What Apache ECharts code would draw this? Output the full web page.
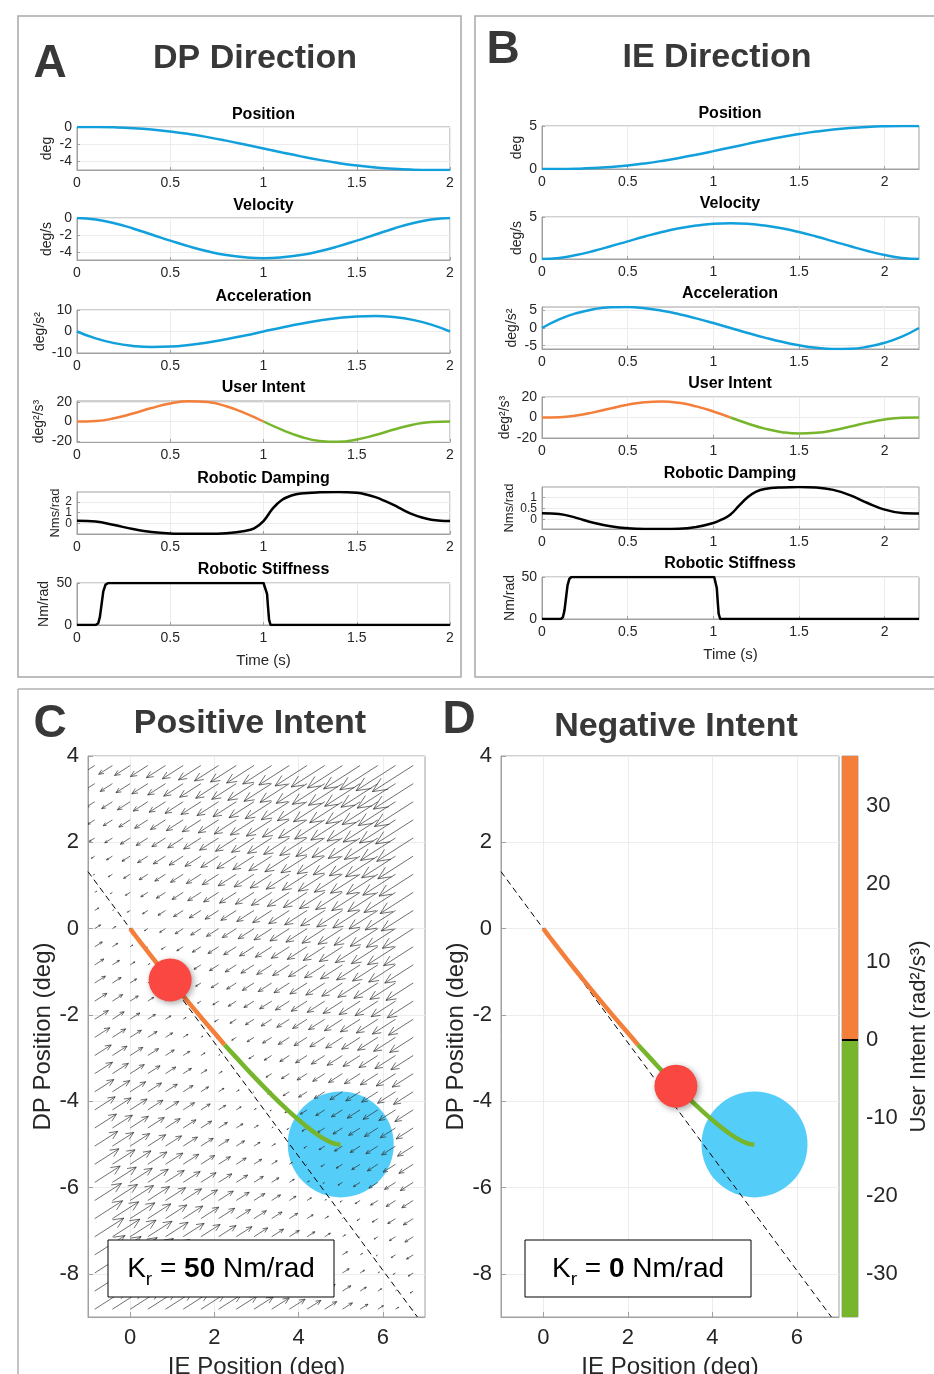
<!DOCTYPE html>
<html><head><meta charset="utf-8">
<script src="https://cdn.jsdelivr.net/npm/echarts@6/dist/echarts.min.js"></script>
<style>html,body{margin:0;padding:0;background:#fff}#c{width:934px;height:1374px}</style>
</head><body><div id="c"></div>
<script>
// ---------------- DATA ----------------
// Panel A (DP direction), time 0..2 s
const tA = [0,0.1,0.2,0.3,0.4,0.5,0.6,0.7,0.8,0.9,1.0,1.1,1.2,1.3,1.4,1.5,1.6,1.7,1.8,1.9,2.0];
const posA = [0,-0.006,-0.043,-0.133,-0.29,-0.518,-0.815,-1.176,-1.587,-2.034,-2.5,-2.966,-3.413,-3.824,-4.185,-4.482,-4.71,-4.867,-4.957,-4.994,-5];
const velA = [0,-0.17,-0.61,-1.22,-1.92,-2.64,-3.31,-3.88,-4.32,-4.59,-4.69,-4.59,-4.32,-3.88,-3.31,-2.64,-1.92,-1.22,-0.61,-0.17,0];
const accA = [0,-3.21,-5.4,-6.69,-7.2,-7.03,-6.3,-5.12,-3.6,-1.86,0,1.86,3.6,5.12,6.3,7.03,7.2,6.69,5.4,3.21,0];
const intentA = [0,0.54,3.28,8.16,13.82,18.54,20.84,19.87,15.55,8.53,0,-8.53,-15.55,-19.87,-20.84,-18.54,-13.82,-8.16,-3.28,-0.54,0];
const tDampA = [0,0.1,0.2,0.3,0.4,0.5,0.6,0.7,0.8,0.9,0.95,1.0,1.05,1.1,1.15,1.2,1.3,1.4,1.5,1.55,1.6,1.65,1.7,1.75,1.8,1.85,1.9,1.95,2.0];
const dampA = [0.25,0.18,-0.15,-0.52,-0.8,-0.93,-0.96,-0.96,-0.9,-0.7,-0.45,0.22,1.4,2.2,2.6,2.8,2.9,2.92,2.85,2.7,2.45,2.1,1.7,1.25,0.85,0.55,0.35,0.26,0.24];
const tStiffA = [0,0.1,0.114,0.123,0.132,0.141,0.153,0.168,1.0,1.01,1.019,1.024,1.03,1.038,2.0];
const stiffA = [0,0,2,10,25,40,48,50,50,49,37,22,6,0,0];

// Panel B (IE direction), time 0..2.2 s
const tB = [0,0.1,0.2,0.3,0.4,0.5,0.6,0.7,0.8,0.9,1.0,1.1,1.2,1.3,1.4,1.5,1.6,1.7,1.8,1.9,2.0,2.1,2.2];
const posB = [0,0.004,0.033,0.102,0.225,0.405,0.645,0.94,1.284,1.666,2.076,2.5,2.924,3.334,3.716,4.06,4.355,4.595,4.775,4.898,4.967,4.996,5];
const velB = [0,0.128,0.466,0.946,1.509,2.103,2.682,3.209,3.651,3.984,4.191,4.261,4.191,3.984,3.651,3.209,2.682,2.103,1.509,0.946,0.466,0.128,0];
const accB = [0,2.445,4.191,5.309,5.867,5.937,5.588,4.89,3.912,2.724,1.397,0,-1.397,-2.724,-3.912,-4.89,-5.588,-5.937,-5.867,-5.309,-4.191,-2.445,0];
const intentB = [0,0.313,1.953,5.022,8.853,12.486,14.987,15.692,14.283,10.852,5.855,0,-5.855,-10.852,-14.283,-15.692,-14.987,-12.486,-8.853,-5.022,-1.953,-0.313,0];
const tDampB = [0,0.1,0.2,0.3,0.4,0.5,0.6,0.7,0.8,0.9,1.0,1.05,1.1,1.15,1.2,1.25,1.3,1.4,1.5,1.6,1.7,1.8,1.9,2.0,2.1,2.2];
const dampB = [0.28,0.25,0.07,-0.15,-0.31,-0.4,-0.43,-0.43,-0.42,-0.34,-0.16,0.0,0.22,0.62,1.0,1.25,1.37,1.44,1.46,1.44,1.33,1.08,0.74,0.44,0.29,0.27];
const tStiffB = [0,0.11,0.122,0.131,0.14,0.149,0.16,0.172,1.005,1.013,1.02,1.025,1.031,1.04,2.2];
const stiffB = [0,0,2,10,25,40,48,50,50,49,37,22,6,0,0];

// Panels C & D: trajectory in IE/DP plane
const trajIE = [0,0.004,0.033,0.102,0.225,0.405,0.645,0.94,1.284,1.666,2.076,2.24,2.5,2.924,3.334,3.716,4.06,4.355,4.595,4.775,4.898,4.967,4.996,5];
const trajDP = [0,-0.006,-0.043,-0.133,-0.29,-0.518,-0.815,-1.176,-1.587,-2.034,-2.5,-2.69,-2.966,-3.413,-3.824,-4.185,-4.482,-4.71,-4.867,-4.957,-4.994,-5,-5,-5];
const trajSwitch = 11; // index where intent changes sign
const dashIE = [-1, 6.82];
const dashDP = [1.32, -9];
const redC = [0.95, -1.19];
const redD = [3.14, -3.65];
const target = [5, -5];
// quiver grid (panel C)
const quiverX = [-0.84,-0.42,0,0.42,0.84,1.26,1.68,2.1,2.52,2.94,3.36,3.78,4.2,4.62,5.04,5.46,5.88,6.3,6.72];
const quiverY = [3.78,3.36,2.94,2.52,2.1,1.68,1.26,0.84,0.42,0,-0.42,-0.84,-1.26,-1.68,-2.1,-2.52,-2.94,-3.36,-3.78,-4.2,-4.62,-5.04,-5.46,-5.88,-6.3,-6.72,-7.14,-7.56,-7.98,-8.4,-8.82];
const fieldDir = [0.848, 0.53];
const fieldGain = 0.225;
const fieldPow = 0.8;
// colorbar
const cbMin = -35.5, cbMax = 36.4;
const cbTicks = [-30,-20,-10,0,10,20,30];
const xTicksA = [0,0.5,1,1.5,2];
const xTicksCD = [0,2,4,6];
const yTicksCD = [-8,-6,-4,-2,0,2,4];

// ---------------- STYLE ----------------
const FONT = '"Liberation Sans", Arial, Helvetica, sans-serif';
const BLUE = '#12a0dc', ORANGE = '#f47f3a', GREEN = '#77b62c', TXT = '#262626', AX = '#a0a0a0', GRIDC = '#ececec';

const grids = [], xAxes = [], yAxes = [], series = [], graphics = [], extraY = [];

function addPlot(c) {
  const gi = grids.length;
  grids.push({left: c.left, top: c.top, width: c.width, height: c.height, show: true,
    borderColor: AX, borderWidth: 1, backgroundColor: 'transparent', containLabel: false, outerBoundsMode: 'none'});
  const fs = c.fs || 14;
  xAxes.push({gridIndex: gi, type: 'value', min: c.xmin, max: c.xmax,
    axisLine: {show: true, onZero: false, lineStyle: {color: AX, width: 1}},
    axisTick: {show: true, inside: true, length: c.tickLen || 3, lineStyle: {color: AX}, customValues: c.xticks},
    axisLabel: {show: true, color: TXT, fontSize: fs, fontFamily: FONT, margin: c.xmargin || 6, customValues: c.xticks, hideOverlap: false, showMinLabel: true, showMaxLabel: true},
    splitLine: {show: true, lineStyle: {color: GRIDC, width: 1}},
    name: c.xname || '', nameLocation: 'middle', nameGap: c.xnameGap || 30,
    nameTextStyle: {color: TXT, fontSize: c.xnameSize || 15, fontFamily: FONT}});
  const yl = {show: true, color: TXT, fontSize: c.yfs || fs, fontFamily: FONT, margin: c.ymargin || 5, customValues: c.ylabels || c.yticks, hideOverlap: false, showMinLabel: true, showMaxLabel: true};
  yAxes.push({gridIndex: gi, type: 'value', position: 'left', min: c.ymin, max: c.ymax,
    axisLine: {show: true, onZero: false, lineStyle: {color: AX, width: 1}},
    axisTick: {show: true, inside: true, length: c.tickLen || 3, lineStyle: {color: AX}, customValues: c.yticks},
    axisLabel: yl,
    splitLine: {show: true, lineStyle: {color: GRIDC, width: 1}},
    name: c.yname || '', nameLocation: 'middle', nameGap: c.ynameGap || 25,
    nameTextStyle: {color: TXT, fontSize: c.ynameSize || 14, fontFamily: FONT}});
  if (c.ylabels2) {
    // second label-only axis (same side) for tightly packed tick labels
    extraY.push({gridIndex: gi, type: 'value', position: 'left', offset: 0, min: c.ymin, max: c.ymax,
      axisLine: {show: false, onZero: false}, axisTick: {show: false}, splitLine: {show: false},
      axisLabel: {show: true, color: TXT, fontSize: c.yfs || fs, fontFamily: FONT, margin: c.ymargin || 5, customValues: c.ylabels2, hideOverlap: false}});
  }
  return gi;
}
function lineSeries(gi, xs, ys, color, width, smooth, z) {
  series.push({type: 'line', xAxisIndex: gi, yAxisIndex: gi, data: xs.map((x, i) => [x, ys[i]]),
    showSymbol: false, symbol: 'none', smooth: smooth, lineStyle: {color: color, width: width}, z: z || 2, silent: true});
}
function label(x, y, text, size, weight, color) {
  graphics.push({type: 'text', x: x, y: y, z: 50, style: {text: text, fontSize: size, fontWeight: weight || 'normal',
    fontFamily: FONT, fill: color || '#000', align: 'center', verticalAlign: 'middle', textAlign: 'center', textVerticalAlign: 'middle'}});
}

// ----- Panel A -----
const aTops = [127, 218, 310, 401, 492, 583], aH = [43, 42, 43, 41, 42, 42];
const aCfg = [
  {ymin: -5, ymax: 0, yticks: [-4, -2, 0], yname: 'deg', ynameGap: 23},
  {ymin: -4.9, ymax: 0, yticks: [-4, -2, 0], yname: 'deg/s', ynameGap: 23},
  {ymin: -10, ymax: 10, yticks: [-10, 0, 10], yname: 'deg/s²', ynameGap: 30},
  {ymin: -21, ymax: 21, yticks: [-20, 0, 20], yname: 'deg²/s³', ynameGap: 31},
  {ymin: -0.98, ymax: 2.93, yticks: [0, 1, 2], ylabels: [0, 2], ylabels2: [1], yname: 'Nms/rad', ynameGap: 15, ynameSize: 13, yfs: 12},
  {ymin: 0, ymax: 50, yticks: [0, 50], yname: 'Nm/rad', ynameGap: 26, xname: 'Time (s)', xnameGap: 28}
];
const aGi = aCfg.map((c, i) => addPlot(Object.assign({left: 77, top: aTops[i], width: 373, height: aH[i], xmin: 0, xmax: 2, xticks: xTicksA}, c)));
lineSeries(aGi[0], tA, posA, BLUE, 2.5, true);
lineSeries(aGi[1], tA, velA, BLUE, 2.5, true);
lineSeries(aGi[2], tA, accA, BLUE, 2.5, true);
lineSeries(aGi[3], tA.slice(0, 11), intentA.slice(0, 11), ORANGE, 2.5, true);
lineSeries(aGi[3], tA.slice(10), intentA.slice(10), GREEN, 2.5, true);
lineSeries(aGi[4], tDampA, dampA, '#000', 2.5, 0.4);
lineSeries(aGi[5], tStiffA, stiffA, '#000', 2.5, false);

// ----- Panel B -----
const bTops = [126, 217, 307, 397, 487, 577], bH = [43, 42, 42, 41, 42, 42];
const bCfg = [
  {ymin: 0, ymax: 5, yticks: [0, 5], yname: 'deg', ynameGap: 18},
  {ymin: 0, ymax: 5, yticks: [0, 5], yname: 'deg/s', ynameGap: 18},
  {ymin: -5.94, ymax: 5.94, yticks: [-5, 0, 5], yname: 'deg/s²', ynameGap: 23},
  {ymin: -20, ymax: 20, yticks: [-20, 0, 20], yname: 'deg²/s³', ynameGap: 30},
  {ymin: -0.43, ymax: 1.46, yticks: [0, 0.5, 1], ylabels: [0, 1], ylabels2: [0.5], yname: 'Nms/rad', ynameGap: 26, ynameSize: 13, yfs: 12},
  {ymin: 0, ymax: 50, yticks: [0, 50], yname: 'Nm/rad', ynameGap: 24, xname: 'Time (s)', xnameGap: 28}
];
const bGi = bCfg.map((c, i) => addPlot(Object.assign({left: 542, top: bTops[i], width: 377, height: bH[i], xmin: 0, xmax: 2.2, xticks: xTicksA}, c)));
lineSeries(bGi[0], tB, posB, BLUE, 2.5, true);
lineSeries(bGi[1], tB, velB, BLUE, 2.5, true);
lineSeries(bGi[2], tB, accB, BLUE, 2.5, true);
lineSeries(bGi[3], tB.slice(0, 12), intentB.slice(0, 12), ORANGE, 2.5, true);
lineSeries(bGi[3], tB.slice(11), intentB.slice(11), GREEN, 2.5, true);
lineSeries(bGi[4], tDampB, dampB, '#000', 2.5, 0.4);
lineSeries(bGi[5], tStiffB, stiffB, '#000', 2.5, false);

// ----- Panels C & D -----
const cdBase = {top: 756, height: 561, xmin: -1, xmax: 7, ymin: -9, ymax: 4, xticks: xTicksCD, yticks: yTicksCD,
  fs: 22, xmargin: 10, ymargin: 9, tickLen: 5, yname: 'DP Position (deg)', ynameGap: 32, ynameSize: 24,
  xname: 'IE Position (deg)', xnameGap: 38, xnameSize: 24};
const cGi = addPlot(Object.assign({}, cdBase, {left: 88, width: 337}));
const dGi = addPlot(Object.assign({}, cdBase, {left: 501, width: 338}));

// quiver data
const qData = [];
const slope = (dashDP[1] - dashDP[0]) / (dashIE[1] - dashIE[0]);
const icpt = dashDP[0] - slope * dashIE[0];
const nrm = Math.sqrt(1 + slope * slope);
quiverY.forEach(y => quiverX.forEach(x => {
  const off = (y - (slope * x + icpt)) / nrm;
  const len = fieldGain * Math.pow(Math.abs(off), fieldPow);
  const s = off > 0 ? -1 : 1;
  qData.push([x, y, s * len * fieldDir[0], s * len * fieldDir[1]]);
}));

[cGi, dGi].forEach((gi, k) => {
  series.push({type: 'scatter', xAxisIndex: gi, yAxisIndex: gi, data: [target], symbolSize: 106,
    itemStyle: {color: '#55cdf9', opacity: 1}, z: 1, silent: true});
  if (k === 0) {
    series.push({type: 'custom', xAxisIndex: gi, yAxisIndex: gi, data: qData, clip: true, z: 2, silent: true,
      encode: {x: 0, y: 1},
      renderItem: function (params, api) {
        const x = api.value(0), y = api.value(1), u = api.value(2), v = api.value(3);
        const p0 = api.coord([x, y]), p1 = api.coord([x + u, y + v]);
        const dx = p1[0] - p0[0], dy = p1[1] - p0[1];
        const L = Math.hypot(dx, dy), ang = Math.atan2(dy, dx), h = 0.33 * L, a = 24 * Math.PI / 180;
        const h1 = [p1[0] - h * Math.cos(ang - a), p1[1] - h * Math.sin(ang - a)];
        const h2 = [p1[0] - h * Math.cos(ang + a), p1[1] - h * Math.sin(ang + a)];
        return {type: 'group', children: [
          {type: 'line', shape: {x1: p0[0], y1: p0[1], x2: p1[0], y2: p1[1]}, style: {stroke: '#303030', lineWidth: 0.7}},
          {type: 'polyline', shape: {points: [h1, p1, h2]}, style: {stroke: '#303030', fill: null, lineWidth: 0.7}}
        ]};
      }});
  }
  series.push({type: 'line', xAxisIndex: gi, yAxisIndex: gi, data: dashIE.map((x, i) => [x, dashDP[i]]),
    showSymbol: false, symbol: 'none', lineStyle: {color: '#000', width: 1, type: [6, 4]}, z: 3, silent: true});
  series.push({type: 'line', xAxisIndex: gi, yAxisIndex: gi, data: trajIE.slice(0, trajSwitch + 1).map((x, i) => [x, trajDP[i]]),
    showSymbol: false, symbol: 'none', smooth: true, lineStyle: {color: ORANGE, width: 4.5, cap: 'butt'}, z: 4, silent: true});
  series.push({type: 'line', xAxisIndex: gi, yAxisIndex: gi, data: trajIE.slice(trajSwitch).map((x, i) => [x, trajDP[i + trajSwitch]]),
    showSymbol: false, symbol: 'none', smooth: true, lineStyle: {color: GREEN, width: 4.5, cap: 'butt'}, z: 4, silent: true});
  series.push({type: 'scatter', xAxisIndex: gi, yAxisIndex: gi, data: [k === 0 ? redC : redD], symbolSize: 43,
    itemStyle: {color: '#fa4742', opacity: 1, shadowBlur: 6, shadowOffsetX: 2, shadowOffsetY: 2, shadowColor: 'rgba(0,0,0,0.35)'}, z: 5, silent: true});
});

// colorbar
const cbGi = grids.length;
grids.push({left: 842, top: 756, width: 16, height: 561, show: true, borderColor: AX, borderWidth: 1, containLabel: false, outerBoundsMode: 'none'});
xAxes.push({gridIndex: cbGi, type: 'category', data: ['cb'], show: false});
yAxes.push({gridIndex: cbGi, type: 'value', min: cbMin, max: cbMax, position: 'right',
  axisLine: {show: false, onZero: false}, axisTick: {show: true, inside: true, length: 4, lineStyle: {color: '#555'}, customValues: cbTicks},
  axisLabel: {show: true, color: TXT, fontSize: 22, fontFamily: FONT, margin: 8, customValues: cbTicks, hideOverlap: false},
  splitLine: {show: false},
  name: 'User Intent (rad²/s³)', nameLocation: 'middle', nameGap: 50, nameTextStyle: {color: TXT, fontSize: 22, fontFamily: FONT}});
series.push({type: 'bar', xAxisIndex: cbGi, yAxisIndex: cbGi, data: [cbMax], barWidth: '100%', barGap: '-100%',
  itemStyle: {color: ORANGE}, silent: true, z: 1});
series.push({type: 'bar', xAxisIndex: cbGi, yAxisIndex: cbGi, data: [cbMin], barWidth: '100%', barGap: '-100%',
  itemStyle: {color: GREEN}, silent: true, z: 1,
  markLine: {silent: true, symbol: 'none', label: {show: false}, lineStyle: {color: '#000', width: 2, type: 'solid'}, data: [{yAxis: 0}]}});

// label-only extra axes (appended after all series axes so indices stay aligned)
extraY.forEach(a => yAxes.push(a));

// ----- frames & titles -----
graphics.push({type: 'rect', shape: {x: 18, y: 16, width: 443, height: 661}, style: {fill: null, stroke: '#a8a8a8', lineWidth: 1.5}, z: 0});
graphics.push({type: 'rect', shape: {x: 475, y: 16, width: 475, height: 661}, style: {fill: null, stroke: '#a8a8a8', lineWidth: 1.5}, z: 0});
graphics.push({type: 'line', shape: {x1: 18, y1: 689, x2: 934, y2: 689}, style: {stroke: '#b0b0b0', lineWidth: 1.5}, z: 0});
graphics.push({type: 'line', shape: {x1: 18, y1: 689, x2: 18, y2: 1374}, style: {stroke: '#b0b0b0', lineWidth: 1.5}, z: 0});

const TC = '#383838';
label(50, 64, 'A', 46, 'bold', TC);
label(255, 59, 'DP Direction', 34, 'bold', TC);
label(503, 50, 'B', 46, 'bold', TC);
label(717, 58, 'IE Direction', 34, 'bold', TC);
label(50, 724, 'C', 46, 'bold', TC);
label(250, 724, 'Positive Intent', 34, 'bold', TC);
label(459, 720, 'D', 46, 'bold', TC);
label(676, 727, 'Negative Intent', 34, 'bold', TC);

const subTitles = ['Position', 'Velocity', 'Acceleration', 'User Intent', 'Robotic Damping', 'Robotic Stiffness'];
const aTitleY = [115, 206, 297, 388, 479, 570], bTitleY = [114, 204, 294, 384, 474, 564];
subTitles.forEach((t, i) => { label(263.5, aTitleY[i], t, 16, 'bold', '#000'); label(730, bTitleY[i], t, 16, 'bold', '#000'); });

function krBox(left, val) {
  graphics.push({type: 'rect', z: 100, zlevel: 1, shape: {x: left, y: 1240, width: 226, height: 57}, style: {fill: '#fff', stroke: '#000', lineWidth: 1}});
  graphics.push({type: 'text', z: 101, zlevel: 1, x: left + 113, y: 1269, style: {text: '{k|K}{s|r}{k| = }{b|' + val + '}{k| Nm/rad}',
      align: 'center', verticalAlign: 'middle', textAlign: 'center', textVerticalAlign: 'middle',
      rich: {k: {fontSize: 28, fontFamily: FONT, fill: '#000', lineHeight: 40},
             b: {fontSize: 28, fontFamily: FONT, fontWeight: 'bold', fill: '#000', lineHeight: 40},
             s: {fontSize: 19, fontFamily: FONT, fill: '#000', lineHeight: 18, verticalAlign: 'bottom'}}}});
}
krBox(108, '50');
krBox(525, '0');

const chart = echarts.init(document.getElementById('c'), null, {renderer: 'canvas'});
chart.setOption({animation: false, backgroundColor: '#fff', grid: grids, xAxis: xAxes, yAxis: yAxes, series: series, graphic: graphics});
</script></body></html>
